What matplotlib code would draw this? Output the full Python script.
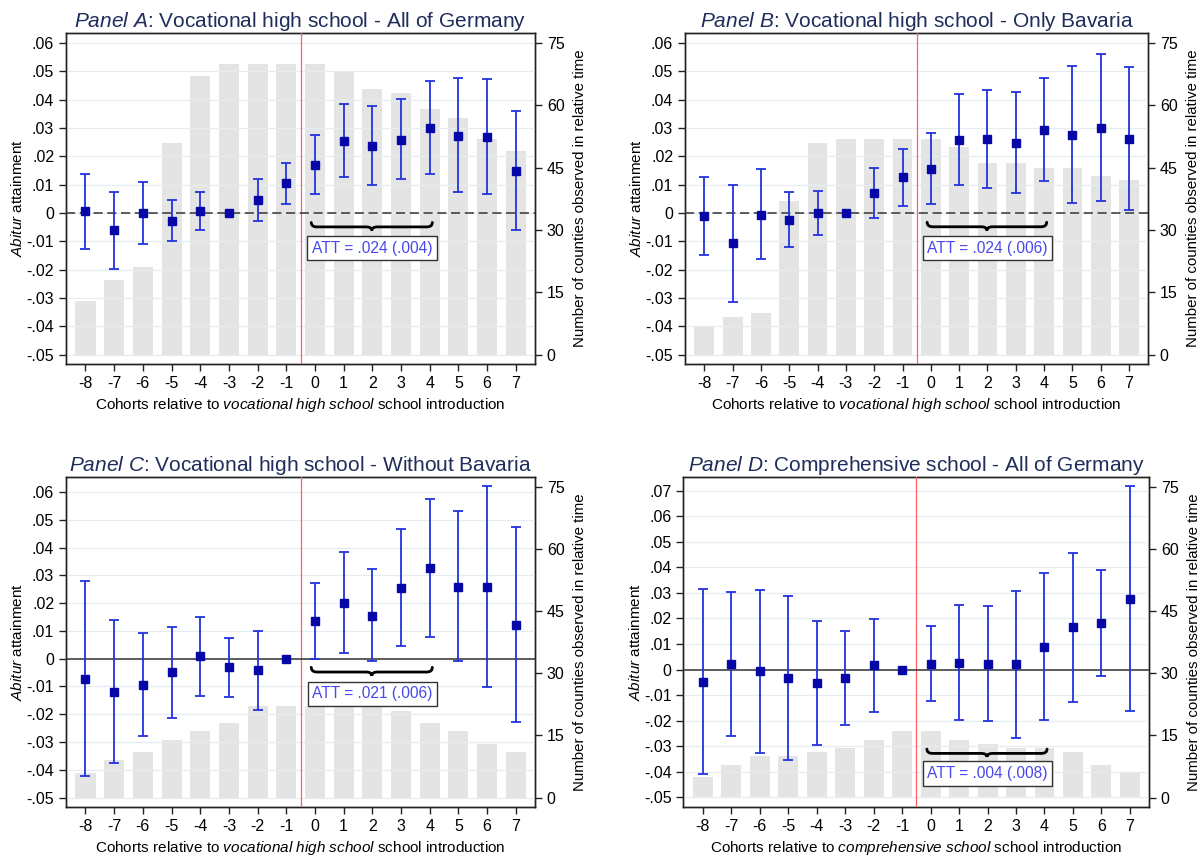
import numpy as np
import matplotlib.pyplot as plt
from matplotlib.path import Path
from matplotlib.patches import PathPatch
from matplotlib.ticker import FuncFormatter

plt.rcParams['font.family'] = ['Liberation Sans', 'DejaVu Sans']
plt.rcParams['mathtext.fontset'] = 'custom'
plt.rcParams['mathtext.rm'] = 'Liberation Sans'
plt.rcParams['mathtext.it'] = 'Liberation Sans:italic'
plt.rcParams['axes.unicode_minus'] = False

cohorts = np.arange(-8, 8)
nan = np.nan

# Panel A: vocational high school, all of Germany
a_counts = [13, 18, 21, 51, 67, 70, 70, 70, 70, 68, 64, 63, 59, 57, 52, 49]
a_est = [0.0006, -0.0062, -0.0001, -0.0028, 0.0007, 0.0, 0.0045, 0.0104,
         0.0168, 0.0255, 0.0236, 0.0258, 0.0301, 0.0272, 0.0267, 0.0147]
a_lo = [-0.0126, -0.0198, -0.0110, -0.0100, -0.0059, nan, -0.0030, 0.0032,
        0.0067, 0.0126, 0.0100, 0.0118, 0.0139, 0.0073, 0.0067, -0.0062]
a_hi = [0.0138, 0.0073, 0.0108, 0.0044, 0.0073, nan, 0.0121, 0.0176,
        0.0274, 0.0386, 0.0376, 0.0401, 0.0466, 0.0475, 0.0472, 0.0359]

# Panel B: vocational high school, only Bavaria
b_counts = [7, 9, 10, 37, 51, 52, 52, 52, 52, 50, 46, 46, 45, 45, 43, 42]
b_est = [-0.0011, -0.0107, -0.0006, -0.0025, 0.0, 0.0, 0.0071, 0.0125,
         0.0155, 0.0258, 0.0261, 0.0245, 0.0292, 0.0276, 0.0301, 0.0261]
b_lo = [-0.0148, -0.0314, -0.0164, -0.0122, -0.0079, nan, -0.0018, 0.0024,
        0.0033, 0.0098, 0.0088, 0.0069, 0.0111, 0.0034, 0.0042, 0.0012]
b_hi = [0.0127, 0.0100, 0.0154, 0.0073, 0.0079, nan, 0.0158, 0.0227,
        0.0282, 0.0419, 0.0435, 0.0426, 0.0476, 0.0519, 0.0561, 0.0516]

# Panel C: vocational high school, without Bavaria
c_counts = [6, 9, 11, 14, 16, 18, 22, 22, 22, 22, 22, 21, 18, 16, 13, 11]
c_est = [-0.0073, -0.0120, -0.0095, -0.0049, 0.0011, -0.0031, -0.0042, 0.0,
         0.0135, 0.0201, 0.0155, 0.0253, 0.0326, 0.0259, 0.0259, 0.0123]
c_lo = [-0.0424, -0.0374, -0.0278, -0.0213, -0.0133, -0.0137, -0.0185, nan,
        -0.0002, 0.0022, -0.0008, 0.0046, 0.0079, -0.0008, -0.0101, -0.0228]
c_hi = [0.0279, 0.0138, 0.0093, 0.0115, 0.0151, 0.0075, 0.0099, nan,
        0.0274, 0.0383, 0.0321, 0.0465, 0.0575, 0.0532, 0.0623, 0.0475]

# Panel D: comprehensive school, all of Germany
d_counts = [5, 8, 10, 10, 11, 12, 14, 16, 16, 14, 13, 12, 12, 11, 8, 6]
d_est = [-0.0047, 0.0020, -0.0007, -0.0031, -0.0053, -0.0033, 0.0017, 0.0,
         0.0021, 0.0025, 0.0022, 0.0020, 0.0090, 0.0167, 0.0181, 0.0276]
d_lo = [-0.0407, -0.0261, -0.0328, -0.0354, -0.0297, -0.0218, -0.0167, nan,
        -0.0124, -0.0199, -0.0202, -0.0267, -0.0199, -0.0125, -0.0026, -0.0164]
d_hi = [0.0314, 0.0302, 0.0311, 0.0289, 0.0192, 0.0152, 0.0199, nan,
        0.0171, 0.0251, 0.0249, 0.0307, 0.0378, 0.0457, 0.0388, 0.0718]

panels = [
    dict(tag='A', name='Vocational high school - All of Germany', school='vocational\\ high\\ school',
         counts=a_counts, est=a_est, lo=a_lo, hi=a_hi, att='ATT = .024 (.004)',
         rect=[0.0549, 0.5758, 0.3902, 0.3858], ylim=(-0.0533, 0.0635), ytop=0.06,
         dashed=True, brace_y=-0.0034, brace_d=0.0028, att_y=-0.0124),
    dict(tag='B', name='Vocational high school - Only Bavaria', school='vocational\\ high\\ school',
         counts=b_counts, est=b_est, lo=b_lo, hi=b_hi, att='ATT = .024 (.006)',
         rect=[0.5699, 0.5758, 0.3852, 0.3858], ylim=(-0.0533, 0.0635), ytop=0.06,
         dashed=True, brace_y=-0.0033, brace_d=0.0029, att_y=-0.0124),
    dict(tag='C', name='Vocational high school - Without Bavaria', school='vocational\\ high\\ school',
         counts=c_counts, est=c_est, lo=c_lo, hi=c_hi, att='ATT = .021 (.006)',
         rect=[0.0549, 0.0594, 0.3902, 0.3850], ylim=(-0.0534, 0.0655), ytop=0.06,
         dashed=False, brace_y=-0.0031, brace_d=0.0031, att_y=-0.0127),
    dict(tag='D', name='Comprehensive school - All of Germany', school='comprehensive\\ school',
         counts=d_counts, est=d_est, lo=d_lo, hi=d_hi, att='ATT = .004 (.008)',
         rect=[0.5686, 0.0594, 0.3873, 0.3850], ylim=(-0.0538, 0.0755), ytop=0.07,
         dashed=False, brace_y=-0.0311, brace_d=0.0031, att_y=-0.0407),
]


def stata_fmt(v, pos):
    if abs(v) < 1e-9:
        return '0'
    s = f'{v:.2f}'
    return s.replace('0.', '.', 1)


def brace(ax, x0, x1, y, depth):
    xm = (x0 + x1) / 2
    ymid = y - depth * 0.55
    ybot = y - depth
    dx = 0.2
    verts = [(x0, y), (x0, ymid), (x0 + dx, ymid), (xm - dx, ymid),
             (xm, ymid), (xm, ybot), (xm, ymid), (xm + dx, ymid),
             (x1 - dx, ymid), (x1, ymid), (x1, y)]
    codes = [Path.MOVETO, Path.CURVE3, Path.CURVE3, Path.LINETO,
             Path.CURVE3, Path.CURVE3, Path.CURVE3, Path.CURVE3,
             Path.LINETO, Path.CURVE3, Path.CURVE3]
    ax.add_patch(PathPatch(Path(verts, codes), fill=False, lw=2.0,
                           color='black', zorder=6, capstyle='round'))


fig = plt.figure(figsize=(12.02, 8.58), dpi=100)

for p in panels:
    ax = fig.add_axes(p['rect'])
    axb = ax.twinx()
    ax.set_zorder(2)
    axb.set_zorder(1)
    ax.patch.set_visible(False)

    # bars: number of counties
    axb.bar(cohorts, p['counts'], width=0.7, color='#e4e4e4', zorder=1)
    axb.set_ylim(-2.25, 77.4)
    axb.set_yticks(np.arange(0, 76, 15))
    axb.set_ylabel('Number of counties observed in relative time', fontsize=10.8, labelpad=6)

    # estimates
    est = np.array(p['est'])
    lo = np.array(p['lo'])
    hi = np.array(p['hi'])
    ax.errorbar(cohorts, est, yerr=[est - lo, hi - est], fmt='none',
                ecolor='#2233dd', elinewidth=1.3, capsize=3.5, capthick=1.3, zorder=4)
    ax.plot(cohorts, est, 's', color='#0707a8', markersize=6.2, zorder=5)

    ax.axvline(-0.5, color='#ff6060', lw=0.9, zorder=3)
    ax.axhline(0, color='#333333', lw=1.1, ls=(0, (6, 3)) if p['dashed'] else '-', zorder=3)

    ax.set_xlim(-8.68, 7.67)
    ax.set_ylim(*p['ylim'])
    ax.set_yticks(np.arange(-0.05, p['ytop'] + 0.001, 0.01))
    ax.yaxis.set_major_formatter(FuncFormatter(stata_fmt))
    ax.set_xticks(cohorts)
    ax.grid(axis='y', color='#e4edf3', lw=0.9, zorder=2)
    ax.set_axisbelow(True)

    for a in (ax, axb):
        a.tick_params(direction='out', length=5, width=1, labelsize=11.5, color='#222222')
        for s in a.spines.values():
            s.set_color('#222222')
            s.set_linewidth(1)

    ax.set_ylabel(r'$\it{Abitur}$ attainment', fontsize=11, labelpad=1)
    ax.set_xlabel(r'Cohorts relative to $\it{' + p['school'] + '}$ school introduction',
                  fontsize=11, labelpad=4)
    ax.set_title(r'$\it{Panel\ ' + p['tag'] + '}$: ' + p['name'],
                 fontsize=15, color='#1e2d5a', pad=4)

    brace(ax, -0.13, 4.09, p['brace_y'], p['brace_d'])
    ax.text(2, p['att_y'], p['att'], ha='center', va='center', color='#4848ee',
            fontsize=11.2, zorder=7,
            bbox=dict(boxstyle='square,pad=0.3', fc='white', ec='#333333', lw=1))

fig.savefig('out.png', dpi=100, facecolor='white')
